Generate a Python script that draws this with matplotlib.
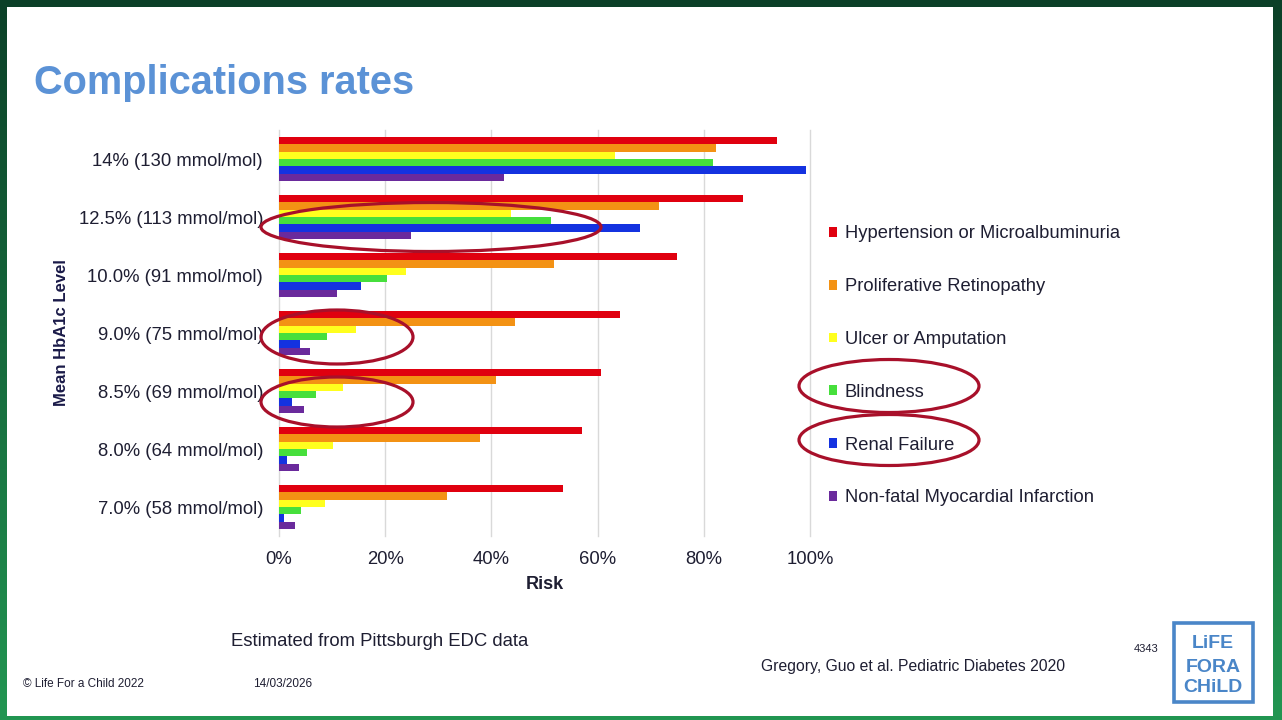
import numpy as np
import matplotlib
matplotlib.use("Agg")
import matplotlib.pyplot as plt
from matplotlib.patches import Ellipse, Rectangle
from matplotlib.ticker import FuncFormatter

plt.rcParams['font.family'] = ['Liberation Sans', 'DejaVu Sans']

# HbA1c levels, bottom to top
levels = ["7.0% (58 mmol/mol)", "8.0% (64 mmol/mol)", "8.5% (69 mmol/mol)",
          "9.0% (75 mmol/mol)", "10.0% (91 mmol/mol)", "12.5% (113 mmol/mol)",
          "14% (130 mmol/mol)"]

# risk in %
hypertension = [53.4, 57.0, 60.6, 64.3, 75.0, 87.3, 93.8]
retinopathy = [31.7, 37.8, 40.9, 44.5, 51.7, 71.5, 82.3]
ulcer = [8.7, 10.2, 12.1, 14.5, 23.9, 43.7, 63.2]
blindness = [4.1, 5.3, 7.0, 9.1, 20.4, 51.3, 81.7]
renal = [0.9, 1.5, 2.4, 3.9, 15.4, 68.0, 99.2]
mi = [3.0, 3.7, 4.7, 5.9, 11.0, 24.8, 42.3]

series_names = ["Hypertension or Microalbuminuria", "Proliferative Retinopathy",
                "Ulcer or Amputation", "Blindness", "Renal Failure",
                "Non-fatal Myocardial Infarction"]
series = [hypertension, retinopathy, ulcer, blindness, renal, mi]
colors = ["#e0000f", "#f39214", "#ffff1e", "#46df3c", "#1432e0", "#6a2a9c"]

W, H = 1282, 720
dark = "#1e1e32"

fig = plt.figure(figsize=(W / 100, H / 100), dpi=100)

# slide background: green frame + white page
bg = fig.add_axes([0, 0, 1, 1], zorder=-5)
bg.set_xlim(0, W)
bg.set_ylim(H, 0)
bg.axis("off")
grad = np.linspace(0, 1, 256)[:, None]
top_c = np.array([11, 64, 40]) / 255
bot_c = np.array([34, 150, 82]) / 255
img = top_c[None, None, :] * (1 - grad[:, :, None]) + bot_c[None, None, :] * grad[:, :, None]
bg.imshow(img, extent=[0, W, H, 0], aspect="auto")
bg.add_patch(Rectangle((7, 7), 1273 - 7, 716 - 7, color="white", lw=0))

# main chart
ax = fig.add_axes([279 / W, 1 - 536 / H, 531 / W, 406 / H])
ax.set_facecolor("none")
y = np.arange(len(levels))
h = 0.126
for i, (name, vals, c) in enumerate(zip(series_names, series, colors)):
    ax.barh(y + (2.5 - i) * h, vals, height=h, color=c, label=name, zorder=3)

ax.set_xlim(0, 100)
ax.set_ylim(-0.5, len(levels) - 0.5)
ax.set_xticks([0, 20, 40, 60, 80, 100])
ax.xaxis.set_major_formatter(FuncFormatter(lambda v, p: f"{v:.0f}%"))
ax.set_yticks(y)
ax.set_yticklabels(levels)
ax.tick_params(axis="y", length=0, pad=11.5, labelsize=13.3, labelcolor=dark)
ax.tick_params(axis="x", length=0, pad=10.5, labelsize=13.3, labelcolor=dark)
ax.grid(axis="x", color="#d9d9d9", lw=1, zorder=0)
for gl in ax.get_xgridlines():
    gl.set_clip_on(False)
for s in ax.spines.values():
    s.set_visible(False)
ax.set_xlabel("Risk", fontsize=13, fontweight="bold", color=dark, labelpad=6)
ax.set_ylabel("Mean HbA1c Level", fontsize=12, fontweight="bold", color="#1a1a48", labelpad=7)

leg = ax.legend(loc="upper left", bbox_to_anchor=(829 / W, 1 - 225.5 / H),
                bbox_transform=fig.transFigure, frameon=False, fontsize=13.2,
                borderpad=0, borderaxespad=0, handlelength=0.45, handleheight=0.45,
                handletextpad=0.4, labelspacing=1.95)
for t in leg.get_texts():
    t.set_color(dark)

# overlay: title, notes, red circles, logo
ov = fig.add_axes([0, 0, 1, 1], zorder=10)
ov.set_xlim(0, W)
ov.set_ylim(H, 0)
ov.axis("off")
ov.patch.set_alpha(0)

ov.text(34, 94, "Complications rates", fontsize=28.6, fontweight="bold",
        color="#5b92d6", va="baseline", ha="left")
ov.text(231, 642, "Estimated from Pittsburgh EDC data", fontsize=13.3, color=dark, va="center")
ov.text(761, 666, "Gregory, Guo et al. Pediatric Diabetes 2020", fontsize=11.3, color=dark, va="center")
ov.text(23, 684, "\u00a9 Life For a Child 2022", fontsize=8.5, color=dark, va="center")
ov.text(253, 684, "14/03/2026", fontsize=8.5, color=dark, va="center")
ov.text(1134, 649, "4343", fontsize=8, color=dark, va="center")

red = "#a8102a"
for cx, cy, ew, eh in [(431, 227, 340, 49), (337, 337, 152, 54), (337, 402, 152, 50),
                       (889, 386, 180, 53), (889, 440, 180, 51)]:
    ov.add_patch(Ellipse((cx, cy), ew, eh, fill=False, ec=red, lw=2.3))

logo = "#4a86c8"
ov.add_patch(Rectangle((1174, 623), 79, 79, fill=False, ec=logo, lw=2.6))
for ty, word in [(644, "LiFE"), (667, "FORA"), (688, "CHiLD")]:
    ov.text(1213, ty, word, fontsize=14, fontweight="bold", color=logo,
            ha="center", va="center")

fig.savefig("out.png", dpi=100)
